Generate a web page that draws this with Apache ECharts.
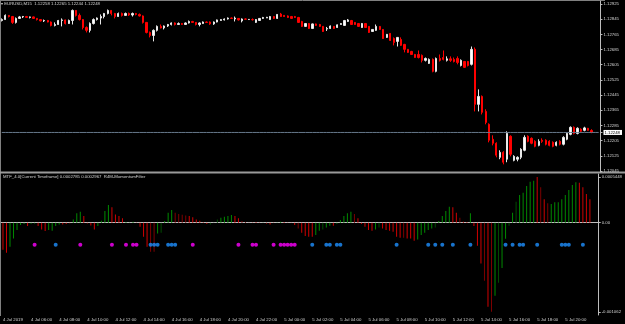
<!DOCTYPE html>
<html>
<head>
<meta charset="utf-8">
<script src="https://cdn.jsdelivr.net/npm/echarts@6/dist/echarts.min.js"></script>
<style>
html,body{margin:0;padding:0;background:#000;}
#chart{width:625px;height:324px;}
</style>
</head>
<body>
<div id="chart"></div>
<script>
// EURUSD M15, 4 Jul 04:00 .. 5 Jul 21:45 -- [open, close, low, high]
var candles = [
 [1.12838,1.12843,1.12833,1.12849],[1.12843,1.12865,1.12841,1.12870],[1.12865,1.12859,1.12854,1.12867],[1.12859,1.12828,1.12820,1.12862],
 [1.12828,1.12849,1.12822,1.12854],[1.12849,1.12857,1.12846,1.12862],[1.12857,1.12859,1.12851,1.12862],[1.12859,1.12854,1.12851,1.12862],
 [1.12854,1.12857,1.12849,1.12859],[1.12857,1.12849,1.12846,1.12859],[1.12849,1.12843,1.12838,1.12851],[1.12843,1.12836,1.12833,1.12846],
 [1.12836,1.12838,1.12830,1.12843],[1.12838,1.12830,1.12828,1.12841],[1.12830,1.12812,1.12807,1.12833],[1.12812,1.12817,1.12807,1.12828],
 [1.12817,1.12838,1.12815,1.12841],[1.12838,1.12841,1.12807,1.12849],[1.12841,1.12822,1.12817,1.12843],[1.12822,1.12838,1.12820,1.12843],
 [1.12838,1.12891,1.12817,1.12896],[1.12891,1.12865,1.12859,1.12893],[1.12865,1.12843,1.12838,1.12875],[1.12843,1.12801,1.12791,1.12846],
 [1.12801,1.12786,1.12775,1.12807],[1.12786,1.12822,1.12775,1.12828],[1.12822,1.12843,1.12817,1.12849],[1.12843,1.12851,1.12838,1.12854],
 [1.12851,1.12859,1.12817,1.12870],[1.12859,1.12875,1.12849,1.12878],[1.12875,1.12891,1.12870,1.12896],[1.12891,1.12875,1.12865,1.12893],
 [1.12875,1.12859,1.12849,1.12878],[1.12859,1.12875,1.12857,1.12880],[1.12875,1.12865,1.12859,1.12880],[1.12865,1.12875,1.12862,1.12880],
 [1.12875,1.12867,1.12862,1.12880],[1.12867,1.12875,1.12859,1.12880],[1.12875,1.12870,1.12865,1.12878],[1.12870,1.12862,1.12859,1.12875],
 [1.12862,1.12828,1.12822,1.12865],[1.12828,1.12775,1.12770,1.12830],[1.12775,1.12759,1.12749,1.12780],[1.12759,1.12786,1.12728,1.12791],
 [1.12786,1.12807,1.12780,1.12812],[1.12807,1.12799,1.12796,1.12817],[1.12799,1.12809,1.12791,1.12812],[1.12809,1.12817,1.12804,1.12820],
 [1.12817,1.12825,1.12812,1.12828],[1.12825,1.12817,1.12812,1.12828],[1.12817,1.12822,1.12815,1.12828],[1.12822,1.12817,1.12815,1.12825],
 [1.12817,1.12825,1.12815,1.12828],[1.12825,1.12833,1.12822,1.12838],[1.12833,1.12828,1.12825,1.12836],[1.12828,1.12817,1.12812,1.12830],
 [1.12817,1.12825,1.12807,1.12828],[1.12822,1.12830,1.12820,1.12833],[1.12830,1.12828,1.12825,1.12833],[1.12830,1.12820,1.12815,1.12833],
 [1.12820,1.12830,1.12815,1.12833],[1.12830,1.12841,1.12828,1.12843],[1.12838,1.12843,1.12836,1.12846],[1.12841,1.12846,1.12838,1.12849],
 [1.12846,1.12851,1.12843,1.12854],[1.12851,1.12849,1.12846,1.12854],[1.12846,1.12851,1.12833,1.12859],[1.12849,1.12841,1.12838,1.12851],
 [1.12836,1.12846,1.12828,1.12849],[1.12846,1.12845,1.12841,1.12849],[1.12843,1.12844,1.12841,1.12846],[1.12843,1.12842,1.12838,1.12849],
 [1.12828,1.12843,1.12825,1.12846],[1.12838,1.12849,1.12836,1.12851],[1.12849,1.12854,1.12846,1.12857],[1.12851,1.12855,1.12851,1.12857],
 [1.12843,1.12859,1.12841,1.12862],[1.12859,1.12849,1.12846,1.12862],[1.12849,1.12870,1.12846,1.12872],[1.12872,1.12859,1.12857,1.12878],
 [1.12865,1.12859,1.12857,1.12867],[1.12862,1.12854,1.12851,1.12865],[1.12859,1.12849,1.12846,1.12862],[1.12859,1.12854,1.12851,1.12862],
 [1.12854,1.12828,1.12825,1.12857],[1.12833,1.12807,1.12804,1.12836],[1.12807,1.12822,1.12804,1.12825],[1.12822,1.12796,1.12793,1.12825],
 [1.12796,1.12820,1.12793,1.12822],[1.12820,1.12812,1.12809,1.12822],[1.12817,1.12807,1.12804,1.12820],[1.12807,1.12780,1.12778,1.12809],
 [1.12793,1.12796,1.12783,1.12804],[1.12796,1.12809,1.12793,1.12812],[1.12807,1.12796,1.12793,1.12809],[1.12801,1.12815,1.12799,1.12817],
 [1.12817,1.12822,1.12815,1.12825],[1.12812,1.12838,1.12809,1.12841],[1.12833,1.12841,1.12830,1.12846],[1.12838,1.12817,1.12815,1.12841],
 [1.12828,1.12817,1.12815,1.12830],[1.12822,1.12807,1.12804,1.12825],[1.12801,1.12822,1.12799,1.12825],[1.12822,1.12801,1.12799,1.12825],
 [1.12807,1.12775,1.12772,1.12809],[1.12780,1.12791,1.12778,1.12793],[1.12786,1.12807,1.12783,1.12817],[1.12807,1.12791,1.12788,1.12809],
 [1.12791,1.12743,1.12741,1.12793],[1.12749,1.12765,1.12746,1.12767],[1.12770,1.12733,1.12730,1.12772],[1.12743,1.12722,1.12707,1.12749],
 [1.12728,1.12749,1.12701,1.12751],[1.12738,1.12707,1.12704,1.12749],[1.12712,1.12686,1.12670,1.12715],[1.12686,1.12670,1.12667,1.12688],
 [1.12675,1.12659,1.12657,1.12678],[1.12659,1.12643,1.12641,1.12662],[1.12659,1.12643,1.12638,1.12680],[1.12654,1.12628,1.12617,1.12659],
 [1.12628,1.12638,1.12622,1.12643],[1.12612,1.12633,1.12609,1.12638],[1.12633,1.12570,1.12565,1.12638],[1.12570,1.12638,1.12565,1.12643],
 [1.12638,1.12628,1.12622,1.12659],[1.12643,1.12633,1.12628,1.12680],[1.12628,1.12636,1.12622,1.12649],[1.12636,1.12628,1.12620,1.12649],
 [1.12633,1.12622,1.12617,1.12643],[1.12638,1.12617,1.12607,1.12649],[1.12601,1.12628,1.12596,1.12633],[1.12622,1.12591,1.12588,1.12625],
 [1.12622,1.12601,1.12596,1.12625],[1.12607,1.12686,1.12601,1.12701],[1.12686,1.12396,1.12359,1.12696],[1.12396,1.12438,1.12359,1.12475],
 [1.12438,1.12354,1.12343,1.12443],[1.12359,1.12301,1.12291,1.12370],[1.12291,1.12207,1.12196,1.12296],[1.12212,1.12191,1.12180,1.12233],
 [1.12191,1.12128,1.12117,1.12196],[1.12117,1.12143,1.12107,1.12154],[1.12143,1.12091,1.12080,1.12149],[1.12107,1.12243,1.12091,1.12254],
 [1.12228,1.12133,1.12122,1.12233],[1.12101,1.12122,1.12096,1.12128],[1.12107,1.12117,1.12096,1.12122],[1.12117,1.12159,1.12107,1.12165],
 [1.12154,1.12222,1.12149,1.12233],[1.12228,1.12201,1.12196,1.12233],[1.12217,1.12191,1.12186,1.12222],[1.12201,1.12175,1.12170,1.12207],
 [1.12180,1.12201,1.12175,1.12212],[1.12207,1.12201,1.12193,1.12217],[1.12207,1.12186,1.12180,1.12212],[1.12201,1.12180,1.12175,1.12207],
 [1.12196,1.12175,1.12170,1.12201],[1.12180,1.12196,1.12175,1.12201],[1.12201,1.12186,1.12180,1.12207],[1.12186,1.12222,1.12180,1.12228],
 [1.12212,1.12243,1.12207,1.12249],[1.12238,1.12275,1.12233,1.12280],[1.12275,1.12243,1.12238,1.12280],[1.12243,1.12270,1.12238,1.12275],
 [1.12265,1.12254,1.12249,1.12270],[1.12259,1.12272,1.12254,1.12278],[1.12270,1.12259,1.12257,1.12272],[1.12258,1.12248,1.12244,1.12265]
];

// momentum filter histogram, one value per bar
var momentum = [
 -0.0003218,-0.0003576,-0.0002861,-0.0001871,-0.0000870,-0.0000274,-0.0000155,-0.0000393,-0.0000119,-0.0000083,
 -0.0000393,-0.0000799,-0.0000989,-0.0000870,-0.0000954,-0.0000393,-0.0000203,-0.0000203,-0.0000155,-0.0000060,
 0.0000393,0.0001109,0.0001311,0.0000799,-0.0000083,-0.0000322,-0.0000799,-0.0000393,0.0000238,0.0001395,
 0.0002110,0.0001824,0.0000989,0.0000799,0.0000513,0.0000083,0.0000036,0.0000119,0.0000036,-0.0000477,
 -0.0001669,-0.0002861,-0.0003457,-0.0003457,-0.0001275,-0.0001192,0.0000203,0.0001192,0.0001514,0.0001192,
 0.0001037,0.0000954,0.0000870,0.0000799,0.0000632,0.0000393,0.0000238,0.0000060,-0.0000155,-0.0000203,
 -0.0000036,0.0000393,0.0000596,0.0000715,0.0000799,0.0000918,0.0000799,0.0000513,0.0000203,0.0000083,
 0.0000036,0.0000036,0.0000083,0.0000036,0.0000036,-0.0000155,-0.0000203,-0.0000036,-0.0000036,0.0000119,
 0.0000083,0.0000036,-0.0000036,-0.0000274,-0.0000679,-0.0001192,-0.0001585,-0.0001669,-0.0001669,-0.0001466,
 -0.0000954,-0.0000799,-0.0000560,-0.0000358,-0.0000358,-0.0000119,0.0000322,0.0000799,0.0001109,0.0001311,
 0.0001037,0.0000513,-0.0000155,-0.0000477,-0.0000870,-0.0000954,-0.0000799,-0.0000560,-0.0000679,-0.0000870,
 -0.0000954,-0.0001073,-0.0001669,-0.0001788,-0.0001788,-0.0001871,-0.0001871,-0.0002146,-0.0001991,-0.0001466,
 -0.0001192,-0.0000870,-0.0000679,-0.0000560,0.0000203,0.0000799,0.0001395,0.0001907,0.0001824,0.0001192,
 0.0000596,0.0000119,0.0000083,0.0001109,-0.0000393,-0.0002742,-0.0004851,-0.0006914,-0.0010013,-0.0010620,
 -0.0008702,-0.0007152,-0.0005400,-0.0001907,-0.0000358,0.0001192,0.0002503,0.0003302,0.0003576,0.0004375,
 0.0004887,0.0005006,0.0005448,0.0004208,0.0002777,0.0002301,0.0002229,0.0002420,0.0002420,0.0002777,
 0.0003302,0.0003898,0.0004494,0.0004804,0.0004768,0.0004208,0.0003421,0.0002785
];
// histogram buffer per bar: G up, g up weak, R down, r down weak
var momentumState = (
 'RRGGGGGRGG' + 'RRRGGGGRRR' + 'GGGRRRRGGG' + 'GRRRRGGGRR' + 'RRrrGgGGGr' +
 'rrrRRRRRRg' + 'ggGGGGRRrr' + 'rRRRgrRRGG' + 'RRRRrRRRRG' + 'GgGGRGGGGG' +
 'rRRRRRGgRR' + 'RRRRrRRRGG' + 'GGGgGGGGRR' + 'rRRGRRRrRr' + 'GgGGgGgGGG' +
 'GGRrRrGGGG' + 'GGGGRRRR').split('');

// signal dots (bar indexes)
var magentaDots = [9,22,31,35,37,38,54,67,71,72,77,79,80,81,82,83];
var blueDots = [15,42,43,44,47,48,49,88,92,93,95,96,112,121,123,125,128,133,143,145,147,148,152,159,160,161,165];
var dotLevel = -0.000262;

var priceTicks = [1.12925,1.12845,1.12765,1.12685,1.12605,1.12525,1.12445,1.12365,1.12285,1.12205,1.12125,1.12045];
var momTicks = [0.0005448, 0, -0.001062];

var timeTickIndex = [0,8,16,24,32,40,48,56,64,72,80,88,96,104,112,120,128,136,144,152,160];
var timeTickLabel = ['4 Jul 2019','4 Jul 06:00','4 Jul 08:00','4 Jul 10:00','4 Jul 12:00','4 Jul 14:00','4 Jul 16:00',
 '4 Jul 18:00','4 Jul 20:00','4 Jul 22:00','5 Jul 00:00','5 Jul 02:00','5 Jul 04:00','5 Jul 06:00','5 Jul 08:00',
 '5 Jul 10:00','5 Jul 12:00','5 Jul 14:00','5 Jul 16:00','5 Jul 18:00','5 Jul 20:00'];

// bar slots (two empty slots of chart shift on the right)
var slots = [];
for (var i = 0; i < candles.length + 2; i++) slots.push('b' + i);

var stateColor = {G: '#008a00', g: '#004d00', R: '#d00000', r: '#7d0000'};
var momData = momentum.map(function (v, i) {
  return {value: v, itemStyle: {color: stateColor[momentumState[i]]}};
});
var lastClose = candles[candles.length - 1][1];
var bidLine = slots.map(function () { return lastClose; });

var txt = '#d4d4d4';
var axisCol = '#bdbdbd';
var font = 'Liberation Sans';

var myChart = echarts.init(document.getElementById('chart'), null, {renderer: 'canvas'});

option = {
  backgroundColor: '#000000',
  animation: false,
  title: [{
    text: '\u25BE EURUSD,M15  1.12258 1.12265 1.12244 1.12248',
    left: 1, top: 2, padding: 0,
    textStyle: {color: txt, fontSize: 4.3, fontWeight: 'normal', fontFamily: font}
  }, {
    text: 'MTF_4.0[Current Timeframe] 0.0002785 0.0002967  R4M-MomentumFilter',
    left: 3, top: 175, padding: 0,
    textStyle: {color: txt, fontSize: 4.3, fontWeight: 'normal', fontFamily: font}
  }],
  graphic: [
    {type: 'line', shape: {x1: 0, y1: 0.5, x2: 605, y2: 0.5}, style: {stroke: '#808080', lineWidth: 1}, silent: true},
    {type: 'line', shape: {x1: 0.5, y1: 0, x2: 0.5, y2: 316}, style: {stroke: '#808080', lineWidth: 1}, silent: true},
    {type: 'line', shape: {x1: 0, y1: 172.5, x2: 625, y2: 172.5}, style: {stroke: '#9a9a9a', lineWidth: 2}, silent: true}
  ],
  grid: [
    {left: -2, right: 20, top: 1, height: 171},
    {left: -2, right: 20, top: 174, height: 141}
  ],
  xAxis: [{
    gridIndex: 0, type: 'category', data: slots, show: false
  }, {
    gridIndex: 1, type: 'category', data: slots,
    axisLine: {lineStyle: {color: axisCol, width: 1}},
    axisTick: {
      alignWithLabel: true, length: 3, lineStyle: {color: axisCol},
      interval: function (idx) { return timeTickIndex.indexOf(idx) > 0; }
    },
    axisLabel: {
      interval: function (idx) { return timeTickIndex.indexOf(idx) >= 0; },
      formatter: function (v, idx) {
        var k = timeTickIndex.indexOf(idx);
        return k >= 0 ? timeTickLabel[k] : '';
      },
      align: 'left', margin: 3, color: txt, fontSize: 4.3, fontFamily: font
    },
    splitLine: {show: false}
  }],
  yAxis: [{
    gridIndex: 0, type: 'value', position: 'right',
    min: 1.120396, max: 1.129408, scale: true,
    splitLine: {show: false},
    axisLine: {show: true, lineStyle: {color: axisCol}},
    axisTick: {show: true, length: 2, lineStyle: {color: axisCol}, customValues: priceTicks.concat([lastClose])},
    axisLabel: {
      customValues: priceTicks.concat([lastClose]), margin: 3, color: txt, fontSize: 4.3, fontFamily: font,
      formatter: function (v) {
        return v === lastClose ? '{bid|' + v.toFixed(5) + '}' : v.toFixed(5);
      },
      rich: {
        bid: {backgroundColor: '#ffffff', color: '#000000', fontSize: 4.3, fontFamily: font, padding: [1, 2, 0, 1]}
      }
    }
  }, {
    gridIndex: 1, type: 'value', position: 'right',
    min: -0.00110, max: 0.00058,
    splitLine: {show: false},
    axisLine: {show: true, lineStyle: {color: axisCol}},
    axisTick: {show: true, length: 2, lineStyle: {color: axisCol}, customValues: momTicks},
    axisLabel: {
      customValues: momTicks, margin: 3, color: txt, fontSize: 4.3, fontFamily: font,
      formatter: function (v) { return v === 0 ? '0.00' : String(v); }
    }
  }],
  series: [{
    // bid line
    name: 'bid', type: 'line',
    xAxisIndex: 0, yAxisIndex: 0,
    data: bidLine, symbol: 'none', silent: true,
    lineStyle: {color: '#66788a', width: 1}
  }, {
    name: 'EURUSD', type: 'candlestick',
    xAxisIndex: 0, yAxisIndex: 0,
    data: candles,
    barWidth: 1.8,
    itemStyle: {
      color: '#ffffff', color0: '#ff0000',
      borderColor: '#e8e8e8', borderColor0: '#ff0000', borderColorDoji: '#e8e8e8',
      borderWidth: 1
    }
  }, {
    name: 'momentum', type: 'bar',
    xAxisIndex: 1, yAxisIndex: 1,
    data: momData, barWidth: 1
  }, {
    name: 'sell', type: 'scatter',
    xAxisIndex: 1, yAxisIndex: 1,
    symbolSize: 4,
    itemStyle: {color: '#ff00ff'},
    data: magentaDots.map(function (i) { return [i, dotLevel]; })
  }, {
    name: 'buy', type: 'scatter',
    xAxisIndex: 1, yAxisIndex: 1,
    symbolSize: 4,
    itemStyle: {color: '#1e90ff'},
    data: blueDots.map(function (i) { return [i, dotLevel]; })
  }]
};

myChart.setOption(option);
</script>
</body>
</html>
